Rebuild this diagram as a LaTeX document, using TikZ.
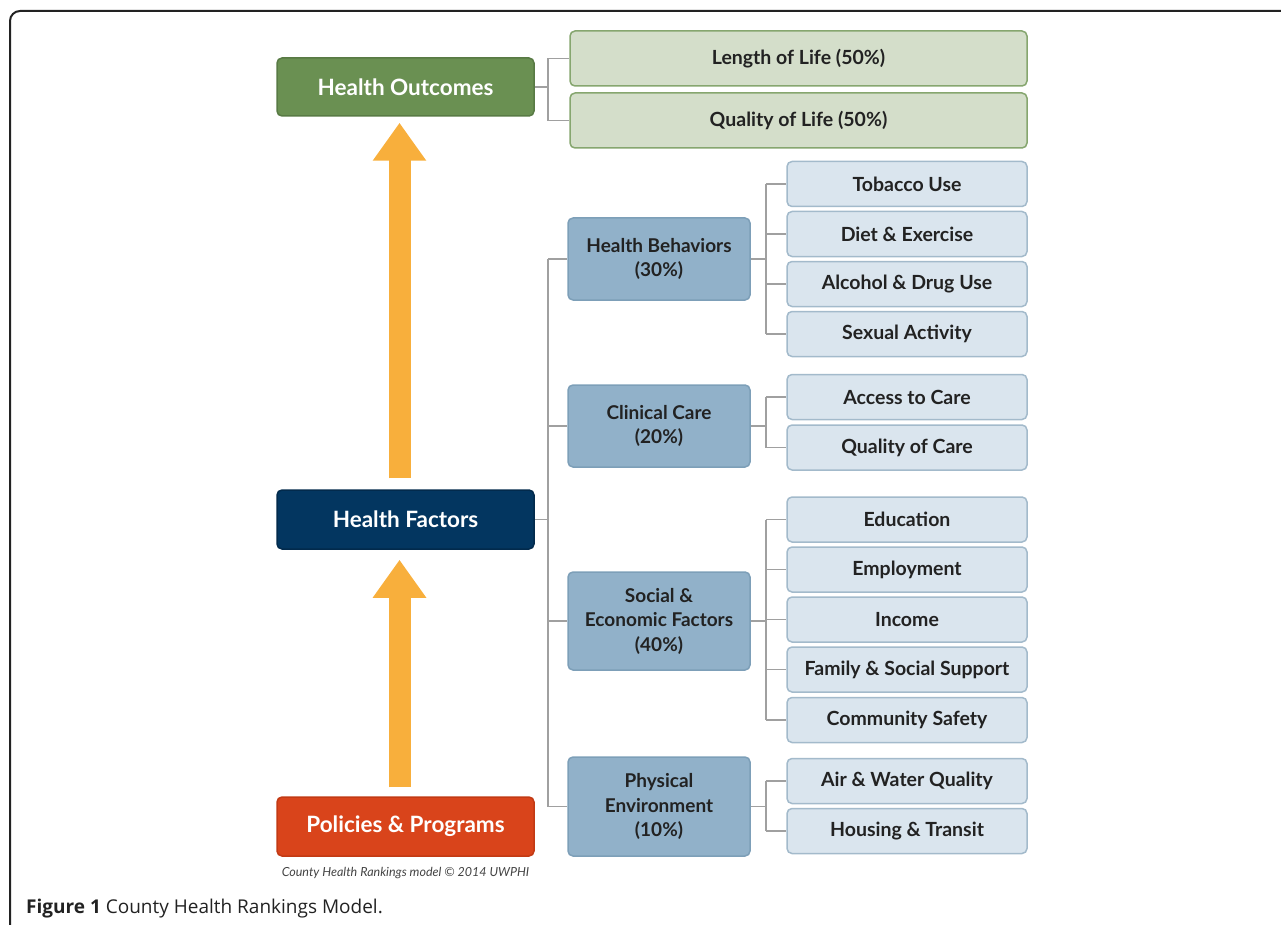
\documentclass[tikz,border=0pt]{standalone}
\usepackage{fontspec}
\setmainfont{Lato}
\newfontfamily\capfont{Open Sans}
\usetikzlibrary{arrows.meta}
\definecolor{hogreen}{HTML}{6A9052}
\definecolor{hogreenb}{HTML}{587A44}
\definecolor{lgreen}{HTML}{D4DECA}
\definecolor{lgreenb}{HTML}{86A66F}
\definecolor{navy}{HTML}{033660}
\definecolor{navyb}{HTML}{022A4C}
\definecolor{redor}{HTML}{D9441B}
\definecolor{redorb}{HTML}{C23A14}
\definecolor{midblue}{HTML}{91B1C9}
\definecolor{midblueb}{HTML}{7D9FB8}
\definecolor{leafblue}{HTML}{DAE5EE}
\definecolor{leafblueb}{HTML}{A3BACB}
\definecolor{txt}{HTML}{222222}
\definecolor{arrowor}{HTML}{F8AF3C}
\definecolor{conn}{HTML}{A0A0A0}
\definecolor{frame}{HTML}{222222}
\tikzset{
  basebox/.style={rounded corners=5pt, line width=1.5pt, inner sep=0pt, align=center, font=\bfseries},
  mainbox/.style={basebox, minimum width=257pt, minimum height=59pt, text=white, font=\bfseries\fontsize{22.5}{26}\selectfont},
  topbox/.style={basebox, fill=lgreen, draw=lgreenb, minimum width=457pt, minimum height=55pt, text=txt, font=\bfseries\fontsize{19.5}{23}\selectfont},
  midbox/.style={basebox, fill=midblue, draw=midblueb, minimum width=182pt, text=txt, font=\bfseries\fontsize{19}{24.5}\selectfont},
  leafbox/.style={basebox, fill=leafblue, draw=leafblueb, minimum width=240pt, minimum height=45pt, text=txt, font=\bfseries\fontsize{19.5}{22}\selectfont},
  connector/.style={draw=conn, line width=1.5pt},
  bigarrow/.style={draw=arrowor, line width=22pt, -{Triangle[width=51pt,length=38pt]}}
}
\begin{document}
\begin{tikzpicture}[x=1pt,y=-1pt]
\useasboundingbox (0,0) rectangle (1281,925);
% frame
\draw[frame, line width=2pt, rounded corners=10pt] (10,930) -- (10,11) -- (1290,11);
% main boxes
\node[mainbox, fill=hogreen, draw=hogreenb, minimum height=58pt] (HO) at (405.5,87) {Health Outcomes};
\node[mainbox, fill=navy, draw=navyb] (HF) at (405.5,519.5) {Health Factors};
\node[mainbox, fill=redor, draw=redorb] (PP) at (405.5,826.5) {Policies \& Programs};
\node[font=\itshape\fontsize{12.5}{14}\selectfont, text=txt!85] (cr) at (405.5,873) {County Health Rankings model \textcopyright{} 2014 UWPHI};
% arrows
\draw[bigarrow] ([xshift=-6pt,yshift=11pt]HF.north) -- ([xshift=-6pt,yshift=-6pt]HO.south);
\draw[bigarrow] ([xshift=-6pt,yshift=9pt]PP.north) -- ([xshift=-6pt,yshift=-10pt]HF.south);
% outcomes
\node[topbox] (LoL) at (798.5,58.5) {Length of Life (50\%)};
\node[topbox] (QoL) at (798.5,120.5) {Quality of Life (50\%)};
\draw[connector] (HO.east) -- ++(13,0) coordinate (jo) |- (LoL.west);
\draw[connector] (jo) |- (QoL.west);
% factor groups
\node[midbox, minimum height=82pt] (HB) at (659,259) {Health Behaviors\\(30\%)};
\node[midbox, minimum height=82pt] (CC) at (659,426) {Clinical Care\\(20\%)};
\node[midbox, minimum height=98pt] (SE) at (659,621) {Social \&\\Economic Factors\\(40\%)};
\node[midbox, minimum height=99pt] (PE) at (659,806.5) {Physical\\Environment\\(10\%)};
\draw[connector] (HF.east) -- ++(13,0) coordinate (jf);
\draw[connector] (jf |- HB.west) -- (jf |- PE.west);
\foreach \n in {HB,CC,SE,PE} \draw[connector] (jf |- \n.west) -- (\n.west);
% leaves
\node[leafbox] (L1) at (907,184) {Tobacco Use};
\node[leafbox] (L2) at (907,234) {Diet \& Exercise};
\node[leafbox] (L3) at (907,284) {Alcohol \& Drug Use};
\node[leafbox] (L4) at (907,334) {Sexual Activity};
\node[leafbox] (L5) at (907,397) {Access to Care};
\node[leafbox] (L6) at (907,447.5) {Quality of Care};
\node[leafbox] (L7) at (907,519.5) {Education};
\node[leafbox] (L8) at (907,569.5) {Employment};
\node[leafbox] (L9) at (907,619.5) {Income};
\node[leafbox] (L10) at (907,669.5) {Family \& Social Support};
\node[leafbox] (L11) at (907,720) {Community Safety};
\node[leafbox] (L12) at (907,781) {Air \& Water Quality};
\node[leafbox] (L13) at (907,831) {Housing \& Transit};
% leaf connectors
\draw[connector] (HB.east) -- ++(15,0) coordinate (jb);
\draw[connector] (jb |- L1.west) -- (jb |- L4.west);
\foreach \n in {L1,L2,L3,L4} \draw[connector] (jb |- \n.west) -- (\n.west);
\draw[connector] (CC.east) -- ++(15,0) coordinate (jc);
\draw[connector] (jc |- L5.west) -- (jc |- L6.west);
\foreach \n in {L5,L6} \draw[connector] (jc |- \n.west) -- (\n.west);
\draw[connector] (SE.east) -- ++(15,0) coordinate (js);
\draw[connector] (js |- L7.west) -- (js |- L11.west);
\foreach \n in {L7,L8,L9,L10,L11} \draw[connector] (js |- \n.west) -- (\n.west);
\draw[connector] (PE.east) -- ++(15,0) coordinate (jp);
\draw[connector] (jp |- L12.west) -- (jp |- L13.west);
\foreach \n in {L12,L13} \draw[connector] (jp |- \n.west) -- (\n.west);
% caption
\node[anchor=base west, inner sep=0pt, text=txt, font=\capfont\fontsize{19}{22}\selectfont] (fig) at (26,913) {\textbf{Figure 1} County Health Rankings Model.};
\end{tikzpicture}
\end{document}
